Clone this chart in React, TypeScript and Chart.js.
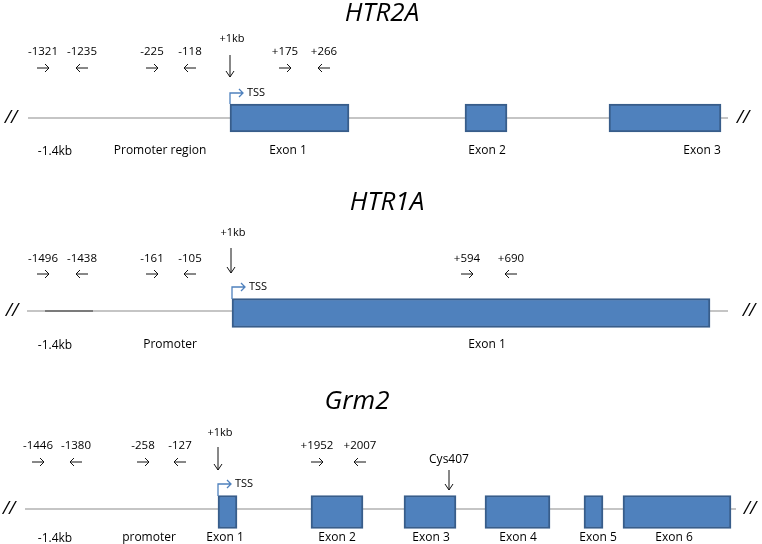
import React, { useEffect, useRef } from "react";
import { Chart, registerables } from "chart.js";

Chart.register(...registerables);

// ---- data (schematic diagram units) ----
const genes = ["HTR2A", "HTR1A", "Grm2"];
const geneLineY = [118, 311, 509];
const geneLineSpan = [[28, 728], [27, 728], [25, 736]];
const htr1aDarkSegment = [45, 93];

const htr2aExons = [[230, 349], [465, 507], [609, 721]];
const htr1aExons = [[232, 710]];
const grm2Exons = [[218, 237], [311, 363], [404, 456], [485, 550], [584, 603], [623, 731]];
const exonRowY = [118, 313, 512];
const exonThickness = [28, 29, 33];

const htr2aPrimers = ["-1321", "-1235", "-225", "-118", "+175", "+266"];
const htr2aPrimerX = [43, 82, 152, 190, 285, 324];
const htr1aPrimers = ["-1496", "-1438", "-161", "-105", "+594", "+690"];
const htr1aPrimerX = [43, 82, 152, 190, 467, 511];
const grm2Primers = ["-1446", "-1380", "-258", "-127", "+1952", "+2007"];
const grm2PrimerX = [38, 76, 143, 180, 317, 360];

const htr2aLabels = ["-1.4kb", "Promoter region", "Exon 1", "Exon 2", "Exon 3"];
const htr2aLabelX = [55, 160, 288, 487, 702];
const htr1aLabels = ["-1.4kb", "Promoter", "Exon 1"];
const htr1aLabelX = [55, 170, 487];
const grm2Labels = ["-1.4kb", "promoter", "Exon 1", "Exon 2", "Exon 3", "Exon 4", "Exon 5", "Exon 6"];
const grm2LabelX = [55, 149, 225, 337, 431, 518, 598, 674];

const titleX = [382, 387, 357];
const titleY = [14, 203, 402];
const primerLabelY = [52, 259, 446];
const primerArrowY = [68, 274, 462];
const kbX = [230, 231, 218];
const kbLabelY = [39, 233, 433];
const kbArrowTop = [55, 248, 447];
const kbArrowBottom = [77, 273, 470];
const tssX = [230, 232, 218];
const tssTop = [104, 299, 496];
const tssY = [93, 287, 484];
const labelRowY = [151, 345, 538];
const breakLeftX = [11, 12, 9];
const breakRightX = [743, 749, 750];
const cysLabel = "Cys407";
const cysX = 449;
const cysLabelY = 460;
const cysArrow = [470, 490];

const FONT = "'Open Sans', 'DejaVu Sans', sans-serif";

const diagramPlugin = {
  id: "diagram",
  afterDatasetsDraw(chart: any) {
    const ctx = chart.ctx;
    const X = (v: number) => chart.scales.x.getPixelForValue(v);
    const Y = (v: number) => chart.scales.y.getPixelForValue(v);
    ctx.save();
    ctx.textBaseline = "middle";
    const text = (s: string, x: number, y: number, font: string, color = "#000", align = "center") => {
      ctx.font = font;
      ctx.fillStyle = color;
      ctx.textAlign = align;
      ctx.fillText(s, X(x), Y(y));
    };
    const hArrow = (cx: number, cy: number, right: boolean) => {
      const x = X(cx), y = Y(cy);
      ctx.strokeStyle = "#111";
      ctx.lineWidth = 1;
      ctx.beginPath();
      ctx.moveTo(x - 6, y);
      ctx.lineTo(x + 6, y);
      const tip = right ? x + 6 : x - 6;
      const d = right ? -4 : 4;
      ctx.moveTo(tip + d, y - 4);
      ctx.lineTo(tip, y);
      ctx.lineTo(tip + d, y + 4);
      ctx.stroke();
    };
    const vArrow = (cx: number, top: number, bottom: number) => {
      const x = X(cx), y1 = Y(top), y2 = Y(bottom);
      ctx.strokeStyle = "#111";
      ctx.lineWidth = 1;
      ctx.beginPath();
      ctx.moveTo(x, y1);
      ctx.lineTo(x, y2);
      ctx.moveTo(x - 4, y2 - 6);
      ctx.lineTo(x, y2);
      ctx.lineTo(x + 4, y2 - 6);
      ctx.stroke();
    };
    const primerSets = [
      [htr2aPrimers, htr2aPrimerX],
      [htr1aPrimers, htr1aPrimerX],
      [grm2Primers, grm2PrimerX],
    ];
    const labelSets = [
      [htr2aLabels, htr2aLabelX],
      [htr1aLabels, htr1aLabelX],
      [grm2Labels, grm2LabelX],
    ];
    genes.forEach((g, i) => {
      text(g, titleX[i], titleY[i], `italic 26px ${FONT}`);
      const [pl, px] = primerSets[i] as [string[], number[]];
      pl.forEach((p, j) => {
        text(p, px[j], primerLabelY[i], `11.5px ${FONT}`);
        hArrow(px[j], primerArrowY[i], j % 2 === 0);
      });
      text("+1kb", kbX[i] + 2, kbLabelY[i], `11px ${FONT}`);
      vArrow(kbX[i], kbArrowTop[i], kbArrowBottom[i]);
      // TSS bent arrow
      const tx = X(tssX[i]), ty0 = Y(tssTop[i]), ty = Y(tssY[i]);
      ctx.strokeStyle = "#4F81BD";
      ctx.lineWidth = 1.3;
      ctx.beginPath();
      ctx.moveTo(tx, ty0);
      ctx.lineTo(tx, ty);
      ctx.lineTo(tx + 13, ty);
      ctx.moveTo(tx + 9, ty - 4);
      ctx.lineTo(tx + 13, ty);
      ctx.lineTo(tx + 9, ty + 4);
      ctx.stroke();
      text("TSS", tssX[i] + 17, tssY[i], `11px ${FONT}`, "#000", "left");
      const [ll, lx] = labelSets[i] as [string[], number[]];
      ll.forEach((l, j) => {
        text(l, lx[j], labelRowY[i] + (j === 0 ? 1 : 0), `12px ${FONT}`);
      });
      text("//", breakLeftX[i], geneLineY[i], `italic 18px ${FONT}`);
      text("//", breakRightX[i], geneLineY[i], `italic 18px ${FONT}`);
    });
    text(cysLabel, cysX, cysLabelY, `12px ${FONT}`);
    vArrow(cysX, cysArrow[0], cysArrow[1]);
    ctx.restore();
  },
};

export default function App() {
  const ref = useRef<HTMLCanvasElement>(null);
  useEffect(() => {
    const exonSets = [htr2aExons, htr1aExons, grm2Exons];
    const lineDatasets = genes.map((g, i) => ({
      type: "line" as const,
      label: g + " locus",
      data: [
        { x: geneLineSpan[i][0], y: geneLineY[i] },
        { x: geneLineSpan[i][1], y: geneLineY[i] },
      ],
      borderColor: "#8C8C8C",
      borderWidth: 1.2,
      pointRadius: 0,
      order: 2,
    }));
    const darkSeg = {
      type: "line" as const,
      label: "HTR1A segment",
      data: [
        { x: htr1aDarkSegment[0], y: geneLineY[1] },
        { x: htr1aDarkSegment[1], y: geneLineY[1] },
      ],
      borderColor: "#333",
      borderWidth: 1.2,
      pointRadius: 0,
      order: 1,
    };
    const exonDatasets = genes.map((g, i) => ({
      type: "bar" as const,
      label: g + " exons",
      data: exonSets[i].map((e) => ({ x: e, y: exonRowY[i] })),
      backgroundColor: "#4F81BD",
      borderColor: "#385D8A",
      borderWidth: 2,
      borderSkipped: false,
      barThickness: exonThickness[i],
      grouped: false,
      order: 0,
    }));
    const chart = new Chart(ref.current as HTMLCanvasElement, {
      type: "bar",
      data: { datasets: [...exonDatasets, ...lineDatasets, darkSeg] as any },
      options: {
        animation: false,
        responsive: true,
        maintainAspectRatio: false,
        indexAxis: "y",
        layout: { padding: 0 },
        plugins: { legend: { display: false }, tooltip: { enabled: false } },
        scales: {
          x: { type: "linear", min: 0, max: 762, display: false, offset: false },
          y: { type: "linear", min: 0, max: 544, reverse: true, display: false, offset: false },
        },
      },
      plugins: [diagramPlugin],
    });
    return () => chart.destroy();
  }, []);
  return (
    <div style={{ position: "absolute", left: 0, top: 0, width: 762, height: 544, background: "#fff" }}>
      <canvas ref={ref} />
    </div>
  );
}
